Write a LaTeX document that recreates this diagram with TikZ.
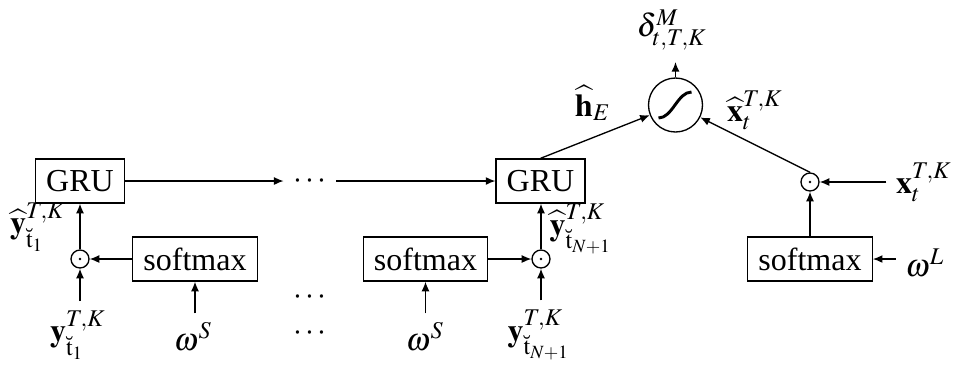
\documentclass[tikz,border=0pt]{standalone}
\usepackage{mathptmx}
\usepackage{fontspec}
\setmainfont{Liberation Serif}
\usetikzlibrary{arrows.meta}
\begin{document}
\begin{tikzpicture}[x=0.375pt,y=-0.375pt, font=\fontsize{12}{14}\selectfont,
  >={Latex[length=3.6pt,width=3pt]}, line width=0.5pt,
  box/.style={draw, minimum height=16.5pt, inner xsep=4pt, inner ysep=0pt},
  prod/.style={circle, draw, minimum size=6.75pt, inner sep=0pt,
    path picture={\fill (path picture bounding box.center) circle (0.5pt);}},
  sigm/.style={circle, draw, minimum size=20.25pt, inner sep=0pt}]
\useasboundingbox (0,0) rectangle (956,366);
% boxes
\node[box] (g1) at (80,181) {GRU};
\node[box] (g2) at (540.5,181) {GRU};
\node[box] (s1) at (195,259) {softmax};
\node[box] (s2) at (425.5,259) {softmax};
\node[box] (s3) at (810,259) {softmax};
\node[prod] (p1) at (80,259) {};
\node[prod] (p2) at (541,259) {};
\node[prod] (p3) at (810,182) {};
\node[sigm] (sig) at (675.5,105) {};
\draw[line width=1.1pt] ([shift={(-17,13)}]sig.center) .. controls ([shift={(-3,13)}]sig.center) and ([shift={(2,-13)}]sig.center) .. ([shift={(16,-13)}]sig.center);
\coordinate (dtip) at (675.5,62);
% dots
\node (d1) at (310,181) {$\cdots$};
\node (d2) at (310,297) {$\cdots$};
\node (d3) at (310,333) {$\cdots$};
% labels
\node (yin1) at (78,335) {$\mathbf{y}^{T,K}_{\breve{\mathrm{t}}_1}$};
\node (yin2) at (539,335) {$\mathbf{y}^{T,K}_{\breve{\mathrm{t}}_{N+1}}$};
\node (w1) at (193,337) {$\omega^S$};
\node (w2) at (425,337) {$\omega^S$};
\node (wL) at (925,263) {$\omega^L$};
\node (xin) at (924,182) {$\mathbf{x}^{T,K}_t$};
\node (yh1) at (38,227) {$\widehat{\mathbf{y}}^{T,K}_{\breve{\mathrm{t}}_1}$};
\node (yh2) at (581,229) {$\widehat{\mathbf{y}}^{T,K}_{\breve{\mathrm{t}}_{N+1}}$};
\node (hE) at (593,103) {$\widehat{\mathbf{h}}_E$};
\node (xh) at (755,110) {$\widehat{\mathbf{x}}^{T,K}_t$};
\node (delta) at (672,30) {$\delta^M_{t,T,K}$};
% connectors
\draw[->] (g1) -- (d1);
\draw[->] (d1) -- (g2);
\draw[->] (p1 |- yin1.north) -- (p1);
\draw[->] (p1) -- (p1 |- g1.south);
\draw[->] (s1) -- (p1);
\draw[->] (s1 |- w1.north) -- (s1);
\draw[->] (s2) -- (p2);
\draw[->] (p2 |- yin2.north) -- (p2);
\draw[->] (p2) -- (p2 |- g2.south);
\draw[->] (s2 |- w2.north) -- (s2);
\draw[->] (g2.north) -- (sig);
\draw[->] (p3.north) -- (sig);
\draw[->] (sig.north) -- (dtip);
\draw[->] (xin.west |- p3) -- (p3);
\draw[->] (wL.west |- s3.east) -- (s3.east);
\draw[->] (s3) -- (p3);
\end{tikzpicture}
\end{document}
